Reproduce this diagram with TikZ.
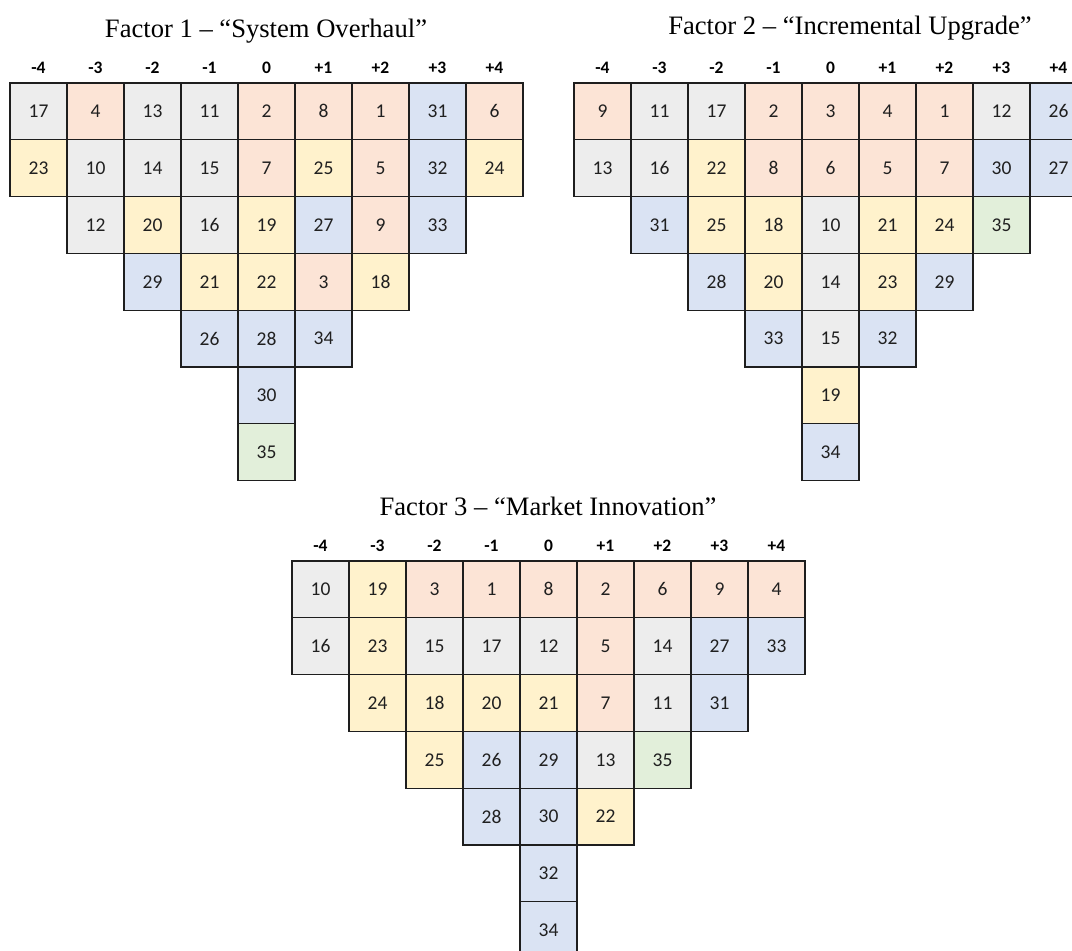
\documentclass[tikz,border=0pt]{standalone}
\usepackage{fontspec}
\setmainfont{Liberation Serif}
\newfontfamily\cellfont{Carlito}

\definecolor{qsalmon}{HTML}{FCE4D6}
\definecolor{qgray}{HTML}{EDEDED}
\definecolor{qyellow}{HTML}{FFF2CC}
\definecolor{qblue}{HTML}{DAE3F3}
\definecolor{qgreen}{HTML}{E2EFDA}
\definecolor{qline}{HTML}{1E1E1E}
\definecolor{qtext}{HTML}{202020}

% fill colour of a statement cell, chosen by statement number
\def\qcol#1{\ifnum#1<10 qsalmon\else\ifnum#1<18 qgray\else\ifnum#1<26 qyellow\else\ifnum#1<35 qblue\else qgreen\fi\fi\fi\fi}

% one row of a sorting grid: prefix, left x, top y, row number, first column, statements
\newcommand\qrow[6]{%
  \foreach \n [count=\k from #5] in {#6} {%
    \edef\cc{\qcol{\n}}%
    \node[cellbox, fill=\cc] (#1-r#4-c\k) at ({#2+57*\k+28.5},{#3+56.8*(#4-1)+28.4}) {\n};
  }%
}

% column heads -4 ... +4 above a grid: prefix, left x, top y
\newcommand\qheads[3]{%
  \foreach \h [count=\k from 0] in {-4,-3,-2,-1,0,+1,+2,+3,+4} {%
    \node[colhead] (#1-h\k) at ({#2+57*\k+28.5},{#3-9.5}) {\h};
  }%
}

\begin{document}
\begin{tikzpicture}[x=1pt,y=-1pt,
  cellbox/.style={draw=qline, line width=1.3pt, minimum width=57pt,
    minimum height=56.8pt, inner sep=0pt, text=qtext,
    font=\cellfont\fontsize{19.5}{21}\selectfont},
  colhead/.style={anchor=base, inner sep=0pt, text=black,
    font=\cellfont\bfseries\fontsize{17.5}{19}\selectfont},
  ftitle/.style={anchor=base, inner sep=0pt, text=black,
    font=\fontsize{26.6}{30}\selectfont}]
\useasboundingbox (0,0) rectangle (1072,951);
\fill[white] (0,0) rectangle (1072,951);
\clip (0,0) rectangle (1072,951);

% Factor 1
\node[ftitle] (t1) at (266,37) {Factor 1 – “System Overhaul”};
\qheads{fa}{10}{83}
\qrow{fa}{10}{83}{1}{0}{17,4,13,11,2,8,1,31,6}
\qrow{fa}{10}{83}{2}{0}{23,10,14,15,7,25,5,32,24}
\qrow{fa}{10}{83}{3}{1}{12,20,16,19,27,9,33}
\qrow{fa}{10}{83}{4}{2}{29,21,22,3,18}
\qrow{fa}{10}{83}{5}{3}{26,28,34}
\qrow{fa}{10}{83}{6}{4}{30}
\qrow{fa}{10}{83}{7}{4}{35}

% Factor 2
\node[ftitle] (t2) at (850,34) {Factor 2 – “Incremental Upgrade”};
\qheads{fb}{574}{83}
\qrow{fb}{574}{83}{1}{0}{9,11,17,2,3,4,1,12,26}
\qrow{fb}{574}{83}{2}{0}{13,16,22,8,6,5,7,30,27}
\qrow{fb}{574}{83}{3}{1}{31,25,18,10,21,24,35}
\qrow{fb}{574}{83}{4}{2}{28,20,14,23,29}
\qrow{fb}{574}{83}{5}{3}{33,15,32}
\qrow{fb}{574}{83}{6}{4}{19}
\qrow{fb}{574}{83}{7}{4}{34}

% Factor 3
\node[ftitle] (t3) at (548,515) {Factor 3 – “Market Innovation”};
\qheads{fc}{292}{561}
\qrow{fc}{292}{561}{1}{0}{10,19,3,1,8,2,6,9,4}
\qrow{fc}{292}{561}{2}{0}{16,23,15,17,12,5,14,27,33}
\qrow{fc}{292}{561}{3}{1}{24,18,20,21,7,11,31}
\qrow{fc}{292}{561}{4}{2}{25,26,29,13,35}
\qrow{fc}{292}{561}{5}{3}{28,30,22}
\qrow{fc}{292}{561}{6}{4}{32}
\qrow{fc}{292}{561}{7}{4}{34}
\end{tikzpicture}
\end{document}
